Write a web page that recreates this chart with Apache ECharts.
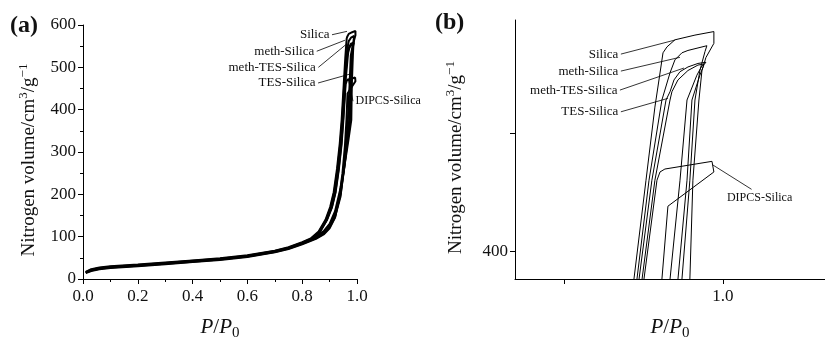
<!DOCTYPE html>
<html>
<head>
<meta charset="utf-8">
<script src="https://cdn.jsdelivr.net/npm/echarts@6/dist/echarts.min.js"></script>
<style>
  html, body { margin: 0; padding: 0; background: #fff; }
  #chart { width: 825px; height: 339px; }
</style>
</head>
<body>
<div id="chart"></div>
<script>
  // isotherm data: P/P0 and N2 volume (cm3/g)
  const sampleNames = ['Silica', 'meth-Silica', 'meth-TES-Silica', 'TES-Silica', 'DIPCS-Silica']

  // low pressure part, shared P/P0 grid
  const lowP = [0.01, 0.03, 0.06, 0.1, 0.2, 0.3, 0.4, 0.5, 0.6, 0.7, 0.75, 0.8, 0.85]
  const silicaLow = [17, 23, 27, 30, 34, 39, 44, 49, 56, 67, 75, 87, 101]
  const methLow = [16, 22, 26, 29, 33, 38, 43, 48, 55, 66, 74, 86, 99]
  const methTesLow = [15, 21, 25, 28, 32, 37, 42, 47, 54, 65, 73, 84, 97]
  const tesLow = [15, 20, 24, 27, 31, 36, 41, 46, 53, 64, 72, 83, 96]
  const dipcsLow = [14, 19, 23, 26, 30, 35, 40, 45, 52, 63, 71, 82, 95]

  // adsorption branch above P/P0 = 0.85
  const silicaAds = [[0.88, 114], [0.9, 130], [0.92, 160], [0.94, 215], [0.955, 270], [0.968, 325], [0.9792, 376], [0.9811, 460], [0.9849, 528], [0.9868, 553], [0.9893, 564], [0.9943, 576], [0.9943, 586]]
  const methAds = [[0.88, 112], [0.9, 127], [0.92, 155], [0.94, 205], [0.953, 260], [0.965, 325], [0.9742, 376], [0.9792, 460], [0.9824, 528], [0.9855, 553], [0.9887, 569], [0.9899, 574]]
  const methTesAds = [[0.88, 110], [0.9, 124], [0.92, 150], [0.94, 200], [0.952, 255], [0.963, 320], [0.9717, 376], [0.9774, 460], [0.9805, 528], [0.9855, 549], [0.9881, 558], [0.9893, 560]]
  const tesAds = [[0.88, 108], [0.9, 122], [0.92, 147], [0.94, 195], [0.95, 250], [0.96, 315], [0.9667, 376], [0.973, 460], [0.9774, 528], [0.9836, 549], [0.9868, 557], [0.9881, 558.5]]
  const dipcsAds = [[0.88, 106], [0.9, 120], [0.92, 145], [0.935, 190], [0.947, 250], [0.956, 315], [0.9616, 376], [0.9654, 438], [0.9943, 467], [0.9931, 476]]

  // desorption branch, from the top back down
  const silicaDes = [[0.9824, 583], [0.9698, 579], [0.9648, 573], [0.9623, 568], [0.9591, 539], [0.9572, 522], [0.9516, 460], [0.944, 376], [0.937, 320], [0.927, 260], [0.915, 205], [0.902, 170], [0.885, 140], [0.86, 112], [0.83, 95], [0.8, 87]]
  const methDes = [[0.978, 570], [0.9742, 568], [0.9698, 562], [0.9667, 551], [0.9616, 528], [0.9535, 460], [0.9459, 376], [0.939, 320], [0.929, 260], [0.917, 205], [0.904, 170], [0.887, 140], [0.86, 110], [0.83, 94], [0.8, 86]]
  const methTesDes = [[0.9843, 559], [0.978, 556], [0.973, 552], [0.9692, 545], [0.9667, 535], [0.9642, 528], [0.9553, 460], [0.9472, 376], [0.941, 320], [0.931, 260], [0.919, 205], [0.906, 170], [0.889, 140], [0.86, 108], [0.83, 92], [0.8, 84]]
  const tesDes = [[0.9843, 557.6], [0.978, 553], [0.9717, 545], [0.9679, 535], [0.9667, 528], [0.9572, 460], [0.9491, 376], [0.943, 320], [0.933, 260], [0.921, 205], [0.908, 170], [0.89, 140], [0.86, 107], [0.83, 91], [0.8, 83]]
  const dipcsDes = [[0.9635, 469.5], [0.9604, 467], [0.9585, 460], [0.9503, 376], [0.944, 320], [0.934, 260], [0.922, 205], [0.909, 170], [0.891, 140], [0.86, 106], [0.83, 90], [0.8, 82]]

  // tick values
  const ticksA_x = [0, 1, 0.2]
  const ticksA_y = [0, 600, 100]
  const ticksB_x = [0.9, 1.0]
  const ticksB_y = [400, 500]
  const labelsB_x = [1.0]
  const labelsB_y = [400]
  const rangeB_x = [0.8692, 1.0642]
  const rangeB_y = [376.3, 595.8]

  // label leaders: [name, from P, from V, to P, to V] (label sits at the "from" end)
  const leadersA = [
    ['Silica', 0.9088, 577, 0.9635, 585],
    ['meth-Silica', 0.853, 538, 0.956, 564],
    ['meth-TES-Silica', 0.859, 500, 0.962, 555],
    ['TES-Silica', 0.858, 463, 0.974, 484],
    ['DIPCS-Silica', 0.9854, 420, 0.967, 475]
  ]
  const leadersB = [
    ['Silica', 0.9358, 566.9, 0.9698, 578.8],
    ['meth-Silica', 0.9358, 552.5, 0.973, 564.2],
    ['meth-TES-Silica', 0.9352, 536.4, 0.9755, 555.1],
    ['TES-Silica', 0.9358, 518, 0.9654, 529.4],
    ['DIPCS-Silica', 1.018, 452.3, 0.9937, 472.9]
  ]

  const FONT = '"Liberation Serif", "Times New Roman", serif'
  const lows = [silicaLow, methLow, methTesLow, tesLow, dipcsLow]
  const ads = [silicaAds, methAds, methTesAds, tesAds, dipcsAds]
  const des = [silicaDes, methDes, methTesDes, tesDes, dipcsDes]

  function loopData(i) {
    let pts = lowP.map((p, k) => [p, lows[i][k]])
    return pts.concat(ads[i], des[i])
  }

  let chart = echarts.init(document.getElementById('chart'))

  const axisLine = { lineStyle: { color: '#000', width: 1 } }
  const tickStyle = { lineStyle: { color: '#000', width: 1 } }
  const labelStyle = { fontFamily: FONT, fontSize: 17, color: '#111' }
  const yName = 'Nitrogen volume/cm{sup|3}/g{sup|\u22121}'
  const yNameStyle = {
    fontFamily: FONT, fontSize: 19, color: '#111', padding: [0, 16, 0, 0],
    rich: { sup: { fontFamily: FONT, fontSize: 13, color: '#111', padding: [0, 0, 11, 0] } }
  }
  const xName = '{i|P}/{i|P}{sub|0}'
  const xNameStyle = {
    fontFamily: FONT, fontSize: 21, color: '#111',
    rich: {
      i: { fontFamily: FONT, fontSize: 21, fontStyle: 'italic', color: '#111' },
      sub: { fontFamily: FONT, fontSize: 15, color: '#111', verticalAlign: 'top', padding: [12, 0, 0, 0] }
    }
  }

  let series = []
  sampleNames.forEach((name, i) => {
    let data = loopData(i)
    series.push({
      name: name, type: 'line', xAxisIndex: 0, yAxisIndex: 0, data: data,
      symbol: 'none', lineStyle: { color: '#000', width: 2 }, clip: true, silent: true
    })
    series.push({
      name: name, type: 'line', xAxisIndex: 1, yAxisIndex: 1, data: data,
      symbol: 'none', lineStyle: { color: '#000', width: 1 }, clip: true, silent: true
    })
  })

  function leaderSeries(l, axis, isB) {
    let dip = l[0] === 'DIPCS-Silica'
    let lab = {
      show: true, formatter: l[0], fontFamily: FONT, fontSize: dip ? 12 : 13, color: '#111',
      position: dip ? (isB ? 'bottom' : 'right') : 'left', distance: 2,
      offset: dip && isB ? [8, 0] : [0, 0]
    }
    return {
      type: 'line', xAxisIndex: axis, yAxisIndex: axis, clip: false, silent: true,
      symbol: 'circle', symbolSize: 1, showSymbol: true,
      itemStyle: { color: 'rgba(0,0,0,0)' },
      lineStyle: { color: '#000', width: 0.8 },
      label: { show: false },
      data: [{ value: [l[1], l[2]], label: lab }, [l[3], l[4]]]
    }
  }
  leadersA.forEach(l => series.push(leaderSeries(l, 0, false)))
  leadersB.forEach(l => series.push(leaderSeries(l, 1, true)))

  chart.setOption({
    animation: false,
    backgroundColor: '#fff',
    title: [
      { text: '(a)', left: 5, top: 9, textStyle: { fontFamily: FONT, fontSize: 24, fontWeight: 'bold', color: '#111' } },
      { text: '(b)', left: 430, top: 6, textStyle: { fontFamily: FONT, fontSize: 24, fontWeight: 'bold', color: '#111' } }
    ],
    grid: [
      { left: 83, top: 25, width: 274, height: 254, outerBoundsMode: 'none' },
      { left: 515, top: 20, width: 310, height: 259, outerBoundsMode: 'none' }
    ],
    xAxis: [
      {
        gridIndex: 0, type: 'value', min: ticksA_x[0], max: ticksA_x[1], interval: ticksA_x[2],
        axisLine: axisLine, axisTick: Object.assign({ length: 5 }, tickStyle),
        minorTick: { show: true, splitNumber: 2, length: 3, lineStyle: { color: '#000' } },
        splitLine: { show: false },
        axisLabel: Object.assign({ margin: 9, formatter: v => v.toFixed(1) }, labelStyle),
        name: xName, nameLocation: 'middle', nameGap: 35, nameTextStyle: xNameStyle
      },
      {
        gridIndex: 1, type: 'value', min: rangeB_x[0], max: rangeB_x[1],
        axisLine: axisLine,
        axisTick: Object.assign({ length: 5, customValues: ticksB_x }, tickStyle),
        splitLine: { show: false },
        axisLabel: Object.assign({ margin: 9, customValues: labelsB_x, formatter: v => v.toFixed(1) }, labelStyle),
        name: xName, nameLocation: 'middle', nameGap: 35, nameTextStyle: xNameStyle
      }
    ],
    yAxis: [
      {
        gridIndex: 0, type: 'value', min: ticksA_y[0], max: ticksA_y[1], interval: ticksA_y[2],
        axisLine: Object.assign({ show: true }, axisLine), axisTick: Object.assign({ show: true, length: 5 }, tickStyle),
        minorTick: { show: true, splitNumber: 2, length: 3, lineStyle: { color: '#000' } },
        splitLine: { show: false },
        axisLabel: Object.assign({ margin: 7 }, labelStyle),
        name: yName, nameLocation: 'middle', nameGap: 42, nameRotate: 90, nameTextStyle: yNameStyle
      },
      {
        gridIndex: 1, type: 'value', min: rangeB_y[0], max: rangeB_y[1],
        axisLine: Object.assign({ show: true }, axisLine),
        axisTick: Object.assign({ show: true, length: 5, customValues: ticksB_y }, tickStyle),
        splitLine: { show: false },
        axisLabel: Object.assign({ margin: 7, customValues: labelsB_y }, labelStyle),
        name: yName, nameLocation: 'middle', nameGap: 47, nameRotate: 90, nameTextStyle: yNameStyle
      }
    ],
    series: series
  })
</script>
</body>
</html>
